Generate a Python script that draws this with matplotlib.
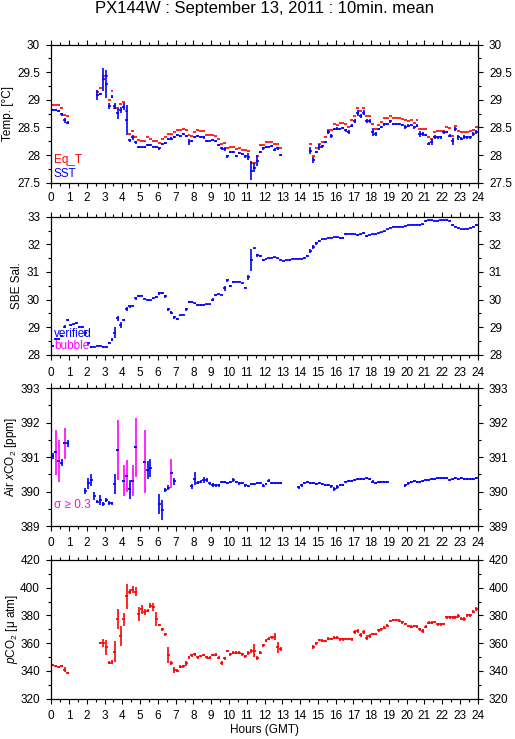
import numpy as np
import matplotlib
matplotlib.use('Agg')
import matplotlib.pyplot as plt
from matplotlib.ticker import MultipleLocator, FuncFormatter

plt.rcParams['font.family'] = ['Liberation Sans', 'DejaVu Sans']
plt.rcParams['font.size'] = 8.5
plt.rcParams['mathtext.fontset'] = 'custom'
plt.rcParams['mathtext.rm'] = 'Liberation Sans'
plt.rcParams['mathtext.it'] = 'Liberation Sans:italic'

BLUE = '#0000ff'
RED = '#ff0000'
MAG = '#ff00ff'
N = None
LW = 1.2

# 10 minute slots, centre of each slot (hours GMT)
hours = (np.arange(144) + 0.5) / 6.0
half_slot = 1.0 / 12.0

sst = [28.82, 28.82, 28.80, 28.74, 28.63, 28.59, N, N, N, N, N, N, N, N, N,
       29.09, 29.11, 29.37, 29.29, 28.89, 29.06, 28.89, 28.76, 28.82, 28.88,
       28.64, 28.27, 28.32, 28.23, 28.14, 28.14, 28.15, 28.19, 28.18, 28.15,
       28.14, 28.12, 28.20, 28.22, 28.29, 28.30, 28.33, 28.36, 28.35, 28.38,
       28.35, 28.24, 28.26, 28.33, 28.35, 28.33, 28.32, 28.26, 28.26, 28.27,
       28.26, 28.18, 28.12, 28.11, 27.98, 28.05, 28.05, 27.98, 28.04, 28.02,
       27.98, 27.97, 27.72, 27.77, 27.90, 28.06, 28.12, 28.15, 28.14, 28.16,
       28.10, 28.12, 28.00, N, N, N, N, N, N, N, N, N,
       28.08, 27.91, 28.05, 28.15, 28.16, 28.24, 28.42, 28.35, 28.47, 28.48,
       28.47, 28.49, 28.45, 28.42, 28.53, 28.62, 28.76, 28.71, 28.77, 28.62,
       28.62, 28.42, 28.38, 28.47, 28.51, 28.56, 28.57, 28.61, 28.56, 28.57,
       28.57, 28.54, 28.51, 28.53, 28.54, 28.50, 28.53, 28.38, 28.38, 28.36,
       28.21, 28.24, 28.33, 28.32, 28.32, 28.41, 28.42, 28.35, 28.25, 28.47,
       28.32, 28.30, 28.33, 28.32, 28.32, 28.38, 28.42]
sst_err = [0.02, 0.02, 0.02, 0.03, 0.04, 0.03, N, N, N, N, N, N, N, N, N,
           0.09, 0.02, 0.20, 0.26, 0.06, 0.03, 0.05, 0.10, 0.05, 0.06,
           0.27, 0.03, 0.05, 0.02, 0.02, 0.01, 0.02, 0.02, 0.02, 0.01,
           0.02, 0.02, 0.02, 0.02, 0.02, 0.02, 0.02, 0.02, 0.02, 0.02,
           0.02, 0.06, 0.02, 0.02, 0.02, 0.02, 0.02, 0.02, 0.01, 0.02,
           0.02, 0.02, 0.02, 0.03, 0.03, 0.02, 0.02, 0.02, 0.02, 0.02,
           0.03, 0.06, 0.17, 0.08, 0.10, 0.02, 0.02, 0.02, 0.02, 0.02,
           0.02, 0.03, 0.02, N, N, N, N, N, N, N, N, N,
           0.06, 0.05, 0.02, 0.06, 0.03, 0.02, 0.04, 0.04, 0.02, 0.03,
           0.02, 0.02, 0.03, 0.04, 0.03, 0.04, 0.05, 0.03, 0.05, 0.04,
           0.03, 0.07, 0.04, 0.02, 0.02, 0.03, 0.02, 0.02, 0.02, 0.02,
           0.02, 0.02, 0.03, 0.03, 0.02, 0.02, 0.03, 0.05, 0.03, 0.02,
           0.02, 0.06, 0.04, 0.03, 0.03, 0.03, 0.02, 0.03, 0.06, 0.04,
           0.04, 0.03, 0.03, 0.03, 0.03, 0.03, 0.03]
eq_t = [28.90, 28.90, 28.90, 28.85, 28.72, 28.70, N, N, N, N, N, N, N, N, N,
        29.15, 29.21, 29.44, 29.44, 28.99, 29.17, 28.85, 28.86, 28.93, 28.97,
        28.80, 28.38, 28.43, 28.33, 28.27, 28.25, 28.25, 28.33, 28.30, 28.25,
        28.25, 28.22, 28.30, 28.32, 28.38, 28.39, 28.42, 28.45, 28.45, 28.48,
        28.45, 28.36, 28.35, 28.42, 28.45, 28.44, 28.44, 28.36, 28.37, 28.37,
        28.35, 28.30, 28.21, 28.22, 28.12, 28.14, 28.15, 28.11, 28.12, 28.10,
        28.09, 28.08, 27.85, 27.85, 27.98, 28.18, 28.18, 28.24, 28.24, 28.24,
        28.21, 28.21, 28.12, N, N, N, N, N, N, N, N, N,
        28.21, 27.99, 28.13, 28.21, 28.24, 28.32, 28.45, 28.45, 28.56, 28.54,
        28.59, 28.59, 28.56, 28.51, 28.64, 28.71, 28.85, 28.80, 28.86, 28.71,
        28.71, 28.56, 28.48, 28.54, 28.60, 28.67, 28.67, 28.70, 28.67, 28.68,
        28.68, 28.65, 28.64, 28.62, 28.64, 28.59, 28.64, 28.48, 28.48, 28.48,
        28.32, 28.30, 28.42, 28.44, 28.44, 28.44, 28.50, 28.49, 28.35, 28.53,
        28.44, 28.41, 28.42, 28.42, 28.44, 28.45, 28.50]

sal = [28.33, 28.57, 28.57, 28.69, 29.02, 29.26, 29.07, 29.10, 29.14, 29.00,
       29.00, 28.79, 28.41, 28.28, 28.29, 28.33, 28.33, 28.29, 28.29, 28.43,
       28.55, 28.80, 29.32, 29.08, 29.26, 29.65, 29.75, 29.78, 30.04, 30.13,
       30.14, 30.03, 30.00, 29.98, 30.04, 30.10, 30.22, 30.24, 30.12, 29.65,
       29.52, 29.35, 29.29, 29.43, 29.45, 29.65, 29.92, 29.92, 29.86, 29.80,
       29.80, 29.80, 29.82, 29.83, 30.00, 30.16, 30.19, 30.18, 30.40, 30.69,
       30.48, 30.64, 30.65, 30.64, 30.58, 30.43, 30.80, 31.43, 31.85, 31.60,
       31.57, 31.44, 31.45, 31.49, 31.52, 31.53, 31.50, 31.44, 31.41, 31.42,
       31.43, 31.48, 31.48, 31.48, 31.48, 31.50, 31.57, 31.76, 31.91, 32.03,
       32.13, 32.18, 32.21, 32.24, 32.24, 32.25, 32.25, 32.23, 32.24, 32.37,
       32.38, 32.38, 32.37, 32.34, 32.36, 32.40, 32.31, 32.34, 32.37, 32.37,
       32.40, 32.43, 32.48, 32.54, 32.60, 32.64, 32.64, 32.64, 32.64, 32.65,
       32.69, 32.71, 32.71, 32.71, 32.70, 32.73, 32.84, 32.87, 32.87, 32.86,
       32.86, 32.87, 32.87, 32.88, 32.86, 32.69, 32.64, 32.58, 32.54, 32.54,
       32.57, 32.60, 32.64, 32.71]
sal_err = [0.03, 0.03, 0.03, 0.04, 0.06, 0.05, 0.04, 0.03, 0.03, 0.04,
           0.03, 0.12, 0.05, 0.02, 0.02, 0.02, 0.02, 0.03, 0.03, 0.03,
           0.06, 0.20, 0.10, 0.10, 0.05, 0.08, 0.04, 0.03, 0.04, 0.03,
           0.02, 0.02, 0.02, 0.02, 0.02, 0.03, 0.04, 0.03, 0.06, 0.05,
           0.05, 0.06, 0.03, 0.02, 0.02, 0.05, 0.04, 0.03, 0.03, 0.02,
           0.02, 0.02, 0.02, 0.02, 0.04, 0.03, 0.02, 0.02, 0.10, 0.04,
           0.04, 0.03, 0.02, 0.02, 0.03, 0.03, 0.10, 0.40, 0.03, 0.05,
           0.04, 0.03, 0.02, 0.02, 0.02, 0.02, 0.02, 0.02, 0.02, 0.02,
           0.02, 0.02, 0.02, 0.02, 0.02, 0.03, 0.04, 0.07, 0.07, 0.04,
           0.04, 0.03, 0.02, 0.02, 0.02, 0.02, 0.02, 0.02, 0.03, 0.03,
           0.02, 0.02, 0.02, 0.03, 0.02, 0.03, 0.03, 0.02, 0.02, 0.02,
           0.02, 0.02, 0.02, 0.02, 0.02, 0.02, 0.02, 0.02, 0.02, 0.02,
           0.02, 0.02, 0.02, 0.02, 0.02, 0.02, 0.03, 0.02, 0.02, 0.02,
           0.02, 0.02, 0.02, 0.02, 0.02, 0.04, 0.03, 0.02, 0.02, 0.02,
           0.02, 0.02, 0.02, 0.03]

xco2 = [391.03, 391.14, 390.89, 390.84, 391.40, 391.40, N, N, N, N, N,
        390.02, 390.24, 390.34, 389.87, 389.71, 389.76, 389.64, 389.76, 389.68,
        389.66, 390.22, 391.21, N, 390.32, 390.46, 390.07, 390.32, 391.29, N,
        N, 390.87, 390.63, 390.69, N, N, 389.64, 389.46, 390.05, 390.12,
        390.53, 390.30, N, N, N, N, N, 390.16, 390.38, 390.26,
        390.29, 390.34, 390.34, 390.24, 390.19, 390.18, 390.18, 390.28, 390.29, 390.26,
        390.28, 390.34, 390.29, 390.24, 390.24, 390.18, 390.16, 390.21, 390.22, 390.24,
        390.24, 390.17, 390.22, 390.32, 390.24, 390.24, 390.24, 390.26, N, N,
        N, N, N, 390.13, 390.19, 390.24, 390.27, 390.24, 390.24, 390.22,
        390.24, 390.21, 390.19, 390.20, 390.16, 390.08, 390.14, 390.19, 390.20, 390.29,
        390.31, 390.32, 390.34, 390.37, 390.37, 390.38, 390.39, 390.36, 390.29, 390.24,
        390.27, 390.28, 390.28, 390.29, N, N, N, N, N, 390.19,
        390.24, 390.29, 390.30, 390.28, 390.27, 390.32, 390.34, 390.34, 390.36, 390.37,
        390.39, 390.41, 390.41, 390.39, 390.34, 390.36, 390.39, 390.37, 390.39, 390.36,
        390.36, 390.37, 390.37, 390.39]
xco2_err = [0.08, 0.65, 0.62, 0.10, 0.45, 0.10, N, N, N, N, N,
            0.08, 0.15, 0.17, 0.12, 0.04, 0.15, 0.05, 0.06, 0.06,
            0.05, 0.30, 0.86, N, 0.44, 0.46, 0.28, 0.45, 0.85, N,
            N, 0.91, 0.26, 0.26, N, N, 0.29, 0.29, 0.06, 0.06,
            0.42, 0.10, N, N, N, N, N, 0.07, 0.18, 0.05,
            0.05, 0.10, 0.05, 0.04, 0.05, 0.03, 0.03, 0.04, 0.03, 0.03,
            0.03, 0.05, 0.03, 0.04, 0.03, 0.03, 0.03, 0.03, 0.03, 0.03,
            0.03, 0.04, 0.03, 0.05, 0.03, 0.03, 0.03, 0.03, N, N,
            N, N, N, 0.04, 0.04, 0.03, 0.03, 0.03, 0.03, 0.03,
            0.03, 0.03, 0.03, 0.03, 0.04, 0.06, 0.05, 0.03, 0.03, 0.03,
            0.03, 0.03, 0.03, 0.03, 0.03, 0.03, 0.03, 0.03, 0.04, 0.03,
            0.03, 0.03, 0.03, 0.03, N, N, N, N, N, 0.04,
            0.04, 0.03, 0.03, 0.03, 0.03, 0.03, 0.03, 0.03, 0.03, 0.03,
            0.03, 0.03, 0.03, 0.03, 0.03, 0.03, 0.03, 0.03, 0.03, 0.03,
            0.03, 0.03, 0.03, 0.03]
# points flagged sigma >= 0.3 (drawn in magenta)
xco2_flag = [1, 2, 4, 22, 24, 25, 27, 28, 31, 40]

pco2 = [344.3, 343.6, 343.1, 343.3, 340.7, 338.3, N, N, N, N, N, N, N, N, N, N,
        359.9, 359.9, 357.0, 346.0, 346.4, 353.9, 377.5, 365.4, 377.2, 394.0,
        397.2, 398.4, 397.2, 381.1, 384.4, 382.7, 383.5, 387.1, 386.3, 377.5,
        373.1, 370.0, 366.4, 351.5, 345.5, 340.7, 340.2, 343.1, 343.3, 345.5,
        349.8, 351.3, 352.0, 349.8, 350.8, 351.5, 349.8, 349.6, 351.5, 351.7,
        349.6, 346.0, 349.1, 354.4, 352.0, 353.2, 353.2, 353.2, 352.0, 350.5,
        353.2, 354.6, 354.6, 349.1, 353.2, 358.5, 361.8, 363.3, 364.2, 364.7,
        357.0, 355.6, N, N, N, N, N, N, N, N, N, N,
        357.5, 359.9, 362.3, 361.8, 361.6, 363.3, 363.0, 364.0, 364.0, 362.8,
        362.8, 363.0, 363.0, 362.8, 368.3, 369.0, 365.9, 368.1, 364.0, 365.2,
        366.6, 366.6, 369.3, 370.0, 371.2, 372.6, 376.0, 376.7, 376.7, 376.3,
        375.0, 373.8, 372.4, 371.9, 372.4, 371.9, 370.0, 368.8, 371.9, 374.8,
        374.8, 375.3, 373.6, 373.6, 373.8, 378.7, 378.7, 378.7, 378.7, 379.9,
        377.7, 377.5, 380.1, 380.1, 382.7, 384.4]
pco2_err = [1.0, 0.8, 0.8, 0.8, 1.8, 0.8, N, N, N, N, N, N, N, N, N, N,
            0.8, 2.8, 5.5, 1.2, 1.5, 7.5, 7.0, 7.2, 4.5, 9.0,
            2.0, 2.5, 3.0, 5.0, 3.0, 2.0, 1.0, 2.0, 3.0, 5.0,
            1.0, 1.0, 1.0, 6.0, 1.5, 2.5, 1.0, 1.0, 1.0, 2.0,
            1.0, 1.0, 1.0, 1.0, 1.0, 1.0, 1.0, 1.0, 1.0, 1.0,
            1.0, 1.5, 1.0, 1.0, 1.0, 1.0, 1.0, 1.0, 1.0, 1.0,
            1.5, 1.5, 4.5, 1.5, 1.0, 1.0, 1.0, 1.0, 1.0, 2.5,
            4.0, 1.5, N, N, N, N, N, N, N, N, N, N,
            1.5, 1.0, 1.0, 1.0, 1.0, 1.0, 1.0, 1.0, 1.0, 1.0,
            1.0, 1.0, 1.0, 1.0, 1.5, 1.5, 1.5, 1.5, 2.0, 1.5,
            1.0, 1.0, 1.0, 1.0, 1.0, 1.0, 1.0, 1.0, 1.0, 1.0,
            1.0, 1.0, 1.0, 1.0, 1.0, 1.0, 1.0, 1.5, 1.0, 1.0,
            1.0, 1.0, 1.0, 1.0, 1.0, 1.0, 1.0, 1.0, 1.0, 1.5,
            1.0, 1.5, 1.0, 1.0, 1.0, 1.5]

W, H = 515, 739


def fx(x):
    return x / W


def fy(y):
    return 1 - y / H


def arr(v):
    return np.array(v, dtype=float)


def draw(ax, vals, errs, color, vcolor=None):
    v = arr(vals)
    m = ~np.isnan(v)
    ax.errorbar(hours[m], v[m], xerr=half_slot, fmt='none', ecolor=color,
                elinewidth=LW, capsize=0)
    if errs is not None:
        e = arr(errs)
        ax.vlines(hours[m], v[m] - e[m], v[m] + e[m],
                  colors=vcolor if vcolor is not None else color, lw=LW)


fig = plt.figure(figsize=(W / 100, H / 100), dpi=100)

tops = [44.7, 216.7, 388.2, 560.0]
bots = [182.7, 354.7, 526.2, 698.7]
axes = []
for t, b in zip(tops, bots):
    ax = fig.add_axes([fx(51.3), fy(b), 426.4 / W, (b - t) / H])
    axes.append(ax)

ylims = [(27.5, 30), (28, 33), (389, 393), (320, 420)]
ymaj = [0.5, 1, 1, 20]
for i, ax in enumerate(axes):
    ax.set_xlim(0, 24)
    ax.set_ylim(*ylims[i])
    ax.xaxis.set_major_locator(MultipleLocator(1))
    ax.xaxis.set_minor_locator(MultipleLocator(0.5))
    ax.yaxis.set_major_locator(MultipleLocator(ymaj[i]))
    ax.yaxis.set_minor_locator(MultipleLocator(ymaj[i] / 2))
    ax.yaxis.set_major_formatter(FuncFormatter(lambda v, p: '%g' % v))
    ax.xaxis.set_major_formatter(FuncFormatter(lambda v, p: '%d' % v))
    ax.tick_params(which='both', direction='out', top=True, bottom=True,
                   left=True, right=True, labelleft=True, labelright=True,
                   labeltop=False, labelbottom=False, width=0.8, labelsize=8.5)
    ax.tick_params(which='major', length=3.6)
    ax.tick_params(which='minor', length=2.2)
    ax.tick_params(axis='y', pad=4.5)
    ax.tick_params(axis='x', pad=3)
    for s in ax.spines.values():
        s.set_linewidth(0.9)

axes[0].tick_params(axis='x', labelbottom=True)
axes[2].tick_params(axis='x', labeltop=True)
axes[3].tick_params(axis='x', labeltop=True, labelbottom=True)
axes[3].tick_params(axis='x', which='major', pad=4.5)

# panel 1: temperatures
draw(axes[0], eq_t, None, RED)
draw(axes[0], sst, sst_err, BLUE)
# panel 2: salinity
draw(axes[1], sal, sal_err, BLUE)
# panel 3: air xCO2
xv = arr(xco2)
xe = arr(xco2_err)
flag = np.zeros(144, dtype=bool)
flag[xco2_flag] = True
m = ~np.isnan(xv)
axes[2].errorbar(hours[m], xv[m], xerr=half_slot, fmt='none', ecolor=BLUE,
                 elinewidth=LW, capsize=0)
mb = m & ~flag
axes[2].vlines(hours[mb], xv[mb] - xe[mb], xv[mb] + xe[mb], colors=BLUE, lw=LW)
mf = m & flag
axes[2].vlines(hours[mf], xv[mf] - xe[mf], xv[mf] + xe[mf], colors=MAG, lw=LW)
axes[2].errorbar(hours[mf], xv[mf], xerr=half_slot, fmt='none', ecolor=BLUE,
                 elinewidth=LW, capsize=0)
# panel 4: pCO2
draw(axes[3], pco2, pco2_err, RED)

# texts
fig.text(fx(264.5), fy(13.3), 'PX144W : September 13, 2011 : 10min. mean',
         ha='center', va='baseline', fontsize=12)
fig.text(fx(264.5), fy(733), 'Hours (GMT)', ha='center', va='baseline',
         fontsize=8.5)

ylabels = ['Temp. [°C]', 'SBE Sal.', r'Air $x$CO$_2$ [ppm]',
           r'$p$CO$_2$ [μ atm]']
ylx = [8, 17, 11, 12]
for i, lab in enumerate(ylabels):
    fig.text(fx(ylx[i]), fy((tops[i] + bots[i]) / 2), lab, rotation=90,
             ha='center', va='center', fontsize=8.5)

fig.text(fx(54), fy(162.7), 'Eq_T', color=RED, va='baseline', fontsize=8.5)
fig.text(fx(54), fy(176.7), 'SST', color=BLUE, va='baseline', fontsize=8.5)
fig.text(fx(54), fy(336.7), 'verified', color=BLUE, va='baseline', fontsize=8.5)
fig.text(fx(54), fy(349.3), 'bubble', color=MAG, va='baseline', fontsize=8.5)
fig.text(fx(54), fy(508.3), 'σ ≥ 0.3', color=MAG, va='baseline', fontsize=8.5)

fig.savefig('out.png', dpi=100)
